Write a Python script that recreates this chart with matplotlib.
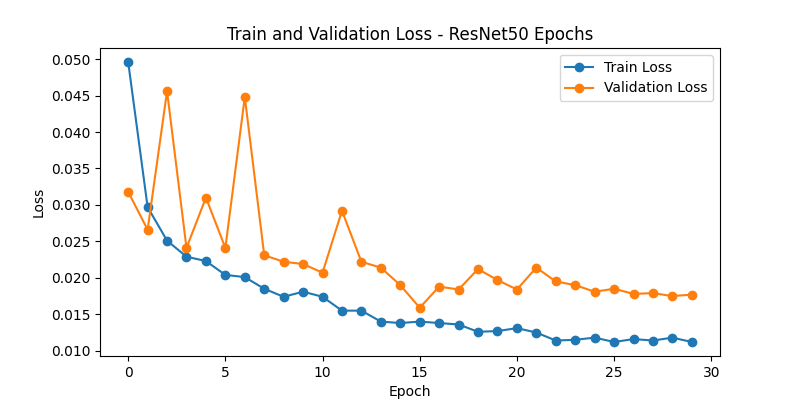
import matplotlib
matplotlib.use('Agg')
import matplotlib.pyplot as plt

epochs = list(range(30))
train_loss = [0.0496, 0.0297, 0.0251, 0.0229, 0.0223, 0.0204, 0.0201, 0.0185,
              0.0174, 0.0181, 0.0174, 0.0155, 0.0155, 0.0140, 0.0138, 0.0140,
              0.0138, 0.0136, 0.0126, 0.0127, 0.0131, 0.0125, 0.0114, 0.0115,
              0.0118, 0.0112, 0.0116, 0.0114, 0.0118, 0.0112]
val_loss = [0.0318, 0.0266, 0.0456, 0.0241, 0.0310, 0.0241, 0.0448, 0.0231,
            0.0222, 0.0219, 0.0207, 0.0292, 0.0222, 0.0214, 0.0190, 0.0159,
            0.0188, 0.0184, 0.0212, 0.0197, 0.0184, 0.0214, 0.0195, 0.0190,
            0.0181, 0.0185, 0.0178, 0.0179, 0.0175, 0.0177]

fig, ax = plt.subplots(figsize=(8, 4), dpi=100)
ax.plot(epochs, train_loss, marker='o', label='Train Loss')
ax.plot(epochs, val_loss, marker='o', label='Validation Loss')
ax.set_title('Train and Validation Loss - ResNet50 Epochs')
ax.set_xlabel('Epoch')
ax.set_ylabel('Loss')
ax.legend()
fig.savefig('out.png', dpi=100)
